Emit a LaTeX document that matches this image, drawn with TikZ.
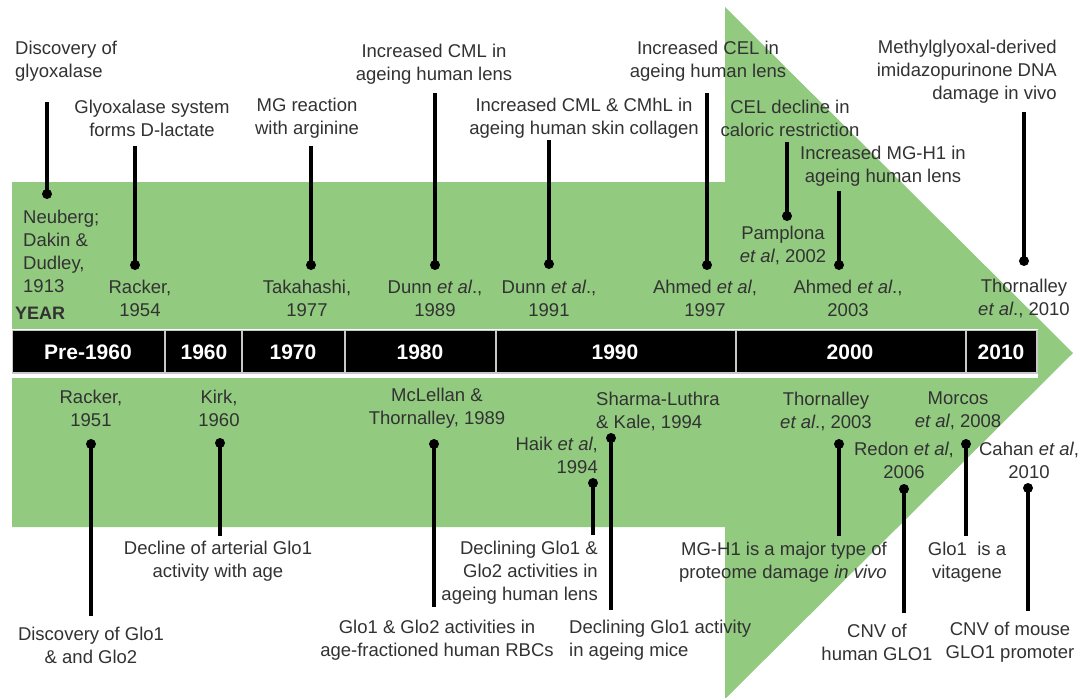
\documentclass[tikz,border=0pt]{standalone}
\usepackage{fontspec}
\setmainfont{Liberation Sans}
\definecolor{arrowgreen}{RGB}{146,202,128}
\definecolor{txt}{RGB}{50,50,50}
\definecolor{barborder}{RGB}{200,200,200}
\tikzset{
  lab/.style={font=\fontsize{18.5}{23}\selectfont, text=txt, inner sep=0pt, align=center},
  labl/.style={lab, align=left},
  labr/.style={lab, align=right},
  yearlab/.style={font=\fontsize{21}{24}\selectfont\bfseries, text=white, inner sep=0pt},
  dot/.style={circle, fill=black, inner sep=0pt, minimum size=10pt},
  conn/.style={line width=3.2pt, black},
  divider/.style={line width=1.6pt, barborder}
}
\begin{document}
\begin{tikzpicture}[x=1pt,y=-1pt]
\useasboundingbox (0,0) rectangle (1085,697);
\fill[white] (0,0) rectangle (1085,697);
% big arrow
\fill[arrowgreen] (12,182) -- (725,182) -- (725,7) -- (1073,353) -- (725,699) -- (725,527) -- (12,527) -- cycle;
% time bar
\fill[white] (12,329) rectangle (1038,378);
\draw[barborder, fill=black, line width=1.2pt] (12.6,330.6) rectangle (1037,373);
\foreach \xx in {165,242,345,496,736,966} \draw[divider] (\xx,331) -- (\xx,373);
\node[yearlab] (y0) at (88,352) {Pre-1960};
\node[yearlab] (y1) at (204,352) {1960};
\node[yearlab] (y2) at (293,352) {1970};
\node[yearlab] (y3) at (420,352) {1980};
\node[yearlab] (y4) at (615,352) {1990};
\node[yearlab] (y5) at (850,352) {2000};
\node[yearlab] (y6) at (1001,352) {2010};
\node[font=\fontsize{18}{22}\selectfont\bfseries, text=txt, inner sep=0pt, anchor=west] (year) at (15,313) {YEAR};

% ---------- top events ----------
% 1
\node[labl, anchor=west] (t1) at (15,61) {Discovery of\\glyoxalase};
\node[labl, anchor=west] (c1) at (23,251) {Neuberg;\\Dakin \&\\Dudley,\\1913};
\coordinate (e1) at (47,102);
\node[dot] (d1) at (47,194) {};
\draw[conn] (e1) -- (d1.center);
% 2
\node[lab] (t2) at (152,118) {Glyoxalase system\\forms D-lactate};
\node[lab] (c2) at (140,298) {Racker,\\1954};
\coordinate (e2) at (135,146);
\node[dot] (d2) at (135,265) {};
\draw[conn] (e2) -- (d2.center);
% 3
\node[lab] (t3) at (307,118) {MG reaction\\with arginine};
\node[lab] (c3) at (307,298) {Takahashi,\\1977};
\coordinate (e3) at (311,146);
\node[dot] (d3) at (311,265) {};
\draw[conn] (e3) -- (d3.center);
% 4
\node[lab] (t4) at (434,64) {Increased CML in\\ageing human lens};
\node[lab] (c4) at (435,298) {Dunn \textit{et al}.,\\1989};
\coordinate (e4) at (435,93);
\node[dot] (d4) at (435,265) {};
\draw[conn] (e4) -- (d4.center);
% 5
\node[lab] (t5) at (584,118) {Increased CML \& CMhL in\\ageing human skin collagen};
\node[lab] (c5) at (549,298) {Dunn \textit{et al}.,\\1991};
\coordinate (e5) at (549,140);
\node[dot] (d5) at (549,264) {};
\draw[conn] (e5) -- (d5.center);
% 6
\node[lab] (t6) at (708,61) {Increased CEL in\\ageing human lens};
\node[lab] (c6) at (705,298) {Ahmed \textit{et al},\\1997};
\coordinate (e6) at (707,93);
\node[dot] (d6) at (707,265) {};
\draw[conn] (e6) -- (d6.center);
% 7
\node[lab] (t7) at (790,118) {CEL decline in\\caloric restriction};
\node[lab] (c7) at (783,245) {Pamplona\\\textit{et al}, 2002};
\coordinate (e7) at (787,142);
\node[dot] (d7) at (787,216) {};
\draw[conn] (e7) -- (d7.center);
% 8
\node[lab] (t8) at (883,166) {Increased MG-H1 in\\ageing human lens};
\node[lab] (c8) at (848,298) {Ahmed \textit{et al}.,\\2003};
\coordinate (e8) at (839,191);
\node[dot] (d8) at (839,265) {};
\draw[conn] (e8) -- (d8.center);
% 9
\node[labr, anchor=east] (t9) at (1057,72) {Methylglyoxal-derived\\imidazopurinone DNA\\damage in vivo};
\node[lab] (c9) at (1024,298) {Thornalley\\\textit{et al}., 2010};
\coordinate (e9) at (1024,112);
\node[dot] (d9) at (1024,261) {};
\draw[conn] (e9) -- (d9.center);

% ---------- bottom events ----------
% 1
\node[lab] (bc1) at (91,408) {Racker,\\1951};
\node[dot] (bd1) at (91,444) {};
\coordinate (be1) at (91,616);
\draw[conn] (bd1.center) -- (be1);
\node[lab] (bt1) at (91,645) {Discovery of Glo1\\\& and Glo2};
% 2
\node[lab] (bc2) at (219,408) {Kirk,\\1960};
\node[dot] (bd2) at (220,443) {};
\coordinate (be2) at (220,536);
\draw[conn] (bd2.center) -- (be2);
\node[lab] (bt2) at (218,561) {Decline of arterial Glo1\\activity with age};
% 3
\node[lab] (bc3) at (437,408) {McLellan \&\\Thornalley, 1989};
\node[dot] (bd3) at (434,444) {};
\coordinate (be3) at (434,607);
\draw[conn] (bd3.center) -- (be3);
\node[lab] (bt3) at (437,640) {Glo1 \& Glo2 activities in\\age-fractioned human RBCs};
% 4
\node[labr, anchor=east] (bc4) at (598,455) {Haik \textit{et al},\\1994};
\node[dot] (bd4) at (593,483) {};
\coordinate (be4) at (593,535);
\draw[conn] (bd4.center) -- (be4);
\node[labr, anchor=east] (bt4) at (598,573) {Declining Glo1 \&\\Glo2 activities in\\ageing human lens};
% 5
\node[labl, anchor=west] (bc5) at (596,411) {Sharma-Luthra\\\& Kale, 1994};
\node[dot] (bd5) at (611,438) {};
\coordinate (be5) at (611,610);
\draw[conn] (bd5.center) -- (be5);
\node[labl, anchor=west] (bt5) at (569,640) {Declining Glo1 activity\\in ageing mice};
% 6
\node[lab] (bc6) at (826,411) {Thornalley\\\textit{et al}., 2003};
\node[dot] (bd6) at (839,444) {};
\coordinate (be6) at (839,536);
\draw[conn] (bd6.center) -- (be6);
\node[labr, anchor=east] (bt6) at (887,562) {MG-H1 is a major type of\\proteome damage \textit{in vivo}};
% 7
\node[lab] (bc7) at (904,460) {Redon \textit{et al},\\2006};
\node[dot] (bd7) at (904,489) {};
\coordinate (be7) at (904,613);
\draw[conn] (bd7.center) -- (be7);
\node[lab] (bt7) at (877,642) {CNV of\\human GLO1};
% 8
\node[lab] (bc8) at (958,411) {Morcos\\\textit{et al}, 2008};
\node[dot] (bd8) at (966,444) {};
\coordinate (be8) at (966,536);
\draw[conn] (bd8.center) -- (be8);
\node[lab] (bt8) at (967,562) {Glo1~ is a\\vitagene};
% 9
\node[lab] (bc9) at (1029,460) {Cahan \textit{et al},\\2010};
\node[dot] (bd9) at (1028,488) {};
\coordinate (be9) at (1028,611);
\draw[conn] (bd9.center) -- (be9);
\node[lab] (bt9) at (1010,642) {CNV of mouse\\GLO1 promoter};
\end{tikzpicture}
\end{document}
